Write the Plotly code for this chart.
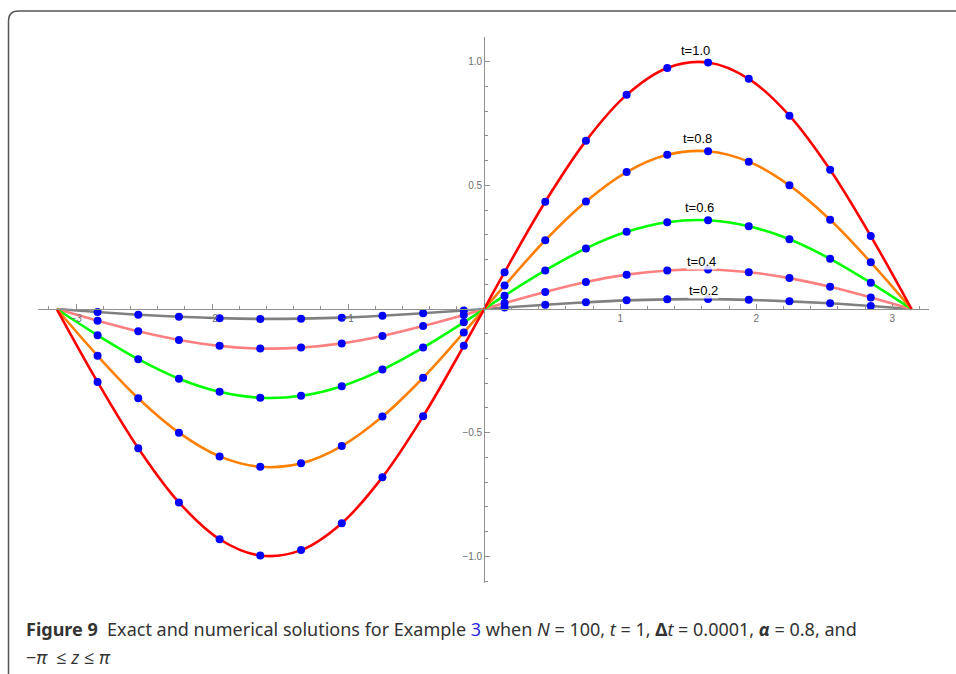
import plotly.graph_objects as go

# ---------------- data ----------------
z_curve = [-3.142, -2.842, -2.543, -2.244, -1.945, -1.646, -1.346, -1.047, -0.748, -0.449, -0.150, 0.0,
           0.150, 0.449, 0.748, 1.047, 1.346, 1.646, 1.945, 2.244, 2.543, 2.842, 3.142]

exact_t02 = [0, -0.012, -0.023, -0.031, -0.037, -0.040, -0.039, -0.035, -0.027, -0.017, -0.006, 0,
             0.006, 0.017, 0.027, 0.035, 0.039, 0.040, 0.037, 0.031, 0.023, 0.012, 0]
exact_t04 = [0, -0.047, -0.090, -0.125, -0.149, -0.160, -0.156, -0.139, -0.109, -0.069, -0.024, 0,
             0.024, 0.069, 0.109, 0.139, 0.156, 0.160, 0.149, 0.125, 0.090, 0.047, 0]
exact_t06 = [0, -0.106, -0.203, -0.282, -0.335, -0.359, -0.351, -0.312, -0.245, -0.156, -0.054, 0,
             0.054, 0.156, 0.245, 0.312, 0.351, 0.359, 0.335, 0.282, 0.203, 0.106, 0]
exact_t08 = [0, -0.189, -0.361, -0.500, -0.596, -0.638, -0.624, -0.554, -0.435, -0.278, -0.095, 0,
             0.095, 0.278, 0.435, 0.554, 0.624, 0.638, 0.596, 0.500, 0.361, 0.189, 0]
exact_t10 = [0, -0.295, -0.563, -0.782, -0.931, -0.997, -0.975, -0.866, -0.680, -0.434, -0.149, 0,
             0.149, 0.434, 0.680, 0.866, 0.975, 0.997, 0.931, 0.782, 0.563, 0.295, 0]

z_dots = [-2.842, -2.543, -2.244, -1.945, -1.646, -1.346, -1.047, -0.748, -0.449, -0.150,
          0.150, 0.449, 0.748, 1.047, 1.346, 1.646, 1.945, 2.244, 2.543, 2.842]
num_t02 = [-0.012, -0.023, -0.031, -0.037, -0.040, -0.039, -0.035, -0.027, -0.017, -0.006,
           0.006, 0.017, 0.027, 0.035, 0.039, 0.040, 0.037, 0.031, 0.023, 0.012]
num_t04 = [-0.047, -0.090, -0.125, -0.149, -0.160, -0.156, -0.139, -0.109, -0.069, -0.024,
           0.024, 0.069, 0.109, 0.139, 0.156, 0.160, 0.149, 0.125, 0.090, 0.047]
num_t06 = [-0.106, -0.203, -0.282, -0.335, -0.359, -0.351, -0.312, -0.245, -0.156, -0.054,
           0.054, 0.156, 0.245, 0.312, 0.351, 0.359, 0.335, 0.282, 0.203, 0.106]
num_t08 = [-0.189, -0.361, -0.500, -0.596, -0.638, -0.624, -0.554, -0.435, -0.278, -0.095,
           0.095, 0.278, 0.435, 0.554, 0.624, 0.638, 0.596, 0.500, 0.361, 0.189]
num_t10 = [-0.295, -0.563, -0.782, -0.931, -0.997, -0.975, -0.866, -0.680, -0.434, -0.149,
           0.149, 0.434, 0.680, 0.866, 0.975, 0.997, 0.931, 0.782, 0.563, 0.295]

series_names = ["t=0.2", "t=0.4", "t=0.6", "t=0.8", "t=1.0"]
series_colors = ["#808080", "#FF8080", "#00FF00", "#FF8000", "#FF0000"]
label_pos = [(1.61, 0.075), (1.60, 0.191), (1.58, 0.411), (1.566, 0.688), (1.55, 1.046)]

x_ticks = [-3, -2, -1, 1, 2, 3]
y_ticks = [-1.0, -0.5, 0.5, 1.0]
y_ticktext = ["\u22121.0", "\u22120.5", "0.5", "1.0"]
x_ticktext = ["\u22123", "\u22122", "\u22121", "1", "2", "3"]

# ---------------- figure ----------------
W, H = 956, 674
ML, MR, MT, MB = 38, 27, 37, 91
x_range = [-3.28, 3.27]
y_range = [-1.108, 1.10]

fig = go.Figure()
exacts = [exact_t02, exact_t04, exact_t06, exact_t08, exact_t10]
nums = [num_t02, num_t04, num_t06, num_t08, num_t10]

for ys, c, n in zip(exacts, series_colors, series_names):
    fig.add_trace(go.Scatter(x=z_curve, y=ys, mode="lines", name=n,
                             line=dict(color=c, width=2.6, shape="spline", smoothing=1.0),
                             hoverinfo="skip"))
for ys, n in zip(nums, series_names):
    fig.add_trace(go.Scatter(x=z_dots, y=ys, mode="markers", name=n + " numerical",
                             marker=dict(color="#0000FF", size=8, line=dict(width=0))))

for (lx, ly), n in zip(label_pos, series_names):
    fig.add_annotation(x=lx, y=ly, text=n, showarrow=False, xref="x", yref="y",
                       font=dict(family="Liberation Sans, Arial, sans-serif", size=13, color="black"),
                       bgcolor="rgba(255,255,255,0.85)", borderpad=0)

pw = W - ML - MR
ph = H - MT - MB
def px_x(p):
    return (p - ML) / pw
def px_y(p):
    return (H - MB - p) / ph

xpos = (0 - y_range[0]) / (y_range[1] - y_range[0])
ypos = (0 - x_range[0]) / (x_range[1] - x_range[0])

axis_font = dict(family="Liberation Sans, Arial, sans-serif", size=10, color="#6e6e6e")
fig.update_layout(
    width=W, height=H,
    margin=dict(l=ML, r=MR, t=MT, b=MB),
    paper_bgcolor="white", plot_bgcolor="white",
    showlegend=False,
    xaxis=dict(range=x_range, anchor="free", position=xpos, showgrid=False, zeroline=False,
               showline=True, linecolor="#909090", linewidth=1,
               tickmode="array", tickvals=x_ticks, ticktext=x_ticktext,
               ticks="inside", ticklen=5, tickwidth=1, tickcolor="#909090",
               tickfont=axis_font,
               minor=dict(tickmode="linear", tick0=0, dtick=0.2, ticks="inside", ticklen=3,
                          tickcolor="#909090", tickwidth=1, showgrid=False)),
    yaxis=dict(range=y_range, anchor="free", position=ypos, showgrid=False, zeroline=False,
               showline=True, linecolor="#909090", linewidth=1,
               tickmode="array", tickvals=y_ticks, ticktext=y_ticktext,
               ticks="inside", ticklen=5, tickwidth=1, tickcolor="#909090",
               tickfont=axis_font,
               minor=dict(tickmode="linear", tick0=0, dtick=0.1, ticks="inside", ticklen=3,
                          tickcolor="#909090", tickwidth=1, showgrid=False)),
)

# rounded frame (left + top edges visible)
x0 = px_x(8.5)
yt = px_y(11)
yb = px_y(690)
xr = px_x(970)
rx = 10 / pw
ry = 10 / ph
path = (f"M {x0},{yb} L {x0},{yt - ry} Q {x0},{yt} {x0 + rx},{yt} L {xr},{yt}")
fig.add_shape(type="path", path=path, xref="paper", yref="paper",
              line=dict(color="#555555", width=1.5))

cap_font = dict(family="Noto Sans, Open Sans, sans-serif", size=18, color="#333333")
line1 = ("<b>Figure 9</b>  Exact and numerical solutions for Example "
         "<span style='color:#2a2ae0'>3</span> when <i>N</i> = 100, <i>t</i> = 1, "
         "<b>\u0394</b><i>t</i> = 0.0001, <b><i>\u03b1</i></b> = 0.8, and")
line2 = "\u2212<i>\u03c0</i>  \u2264 <i>z</i> \u2264 <i>\u03c0</i>"
fig.add_annotation(x=px_x(24), y=px_y(629), xref="paper", yref="paper", text=line1,
                   showarrow=False, xanchor="left", yanchor="middle", font=cap_font)
fig.add_annotation(x=px_x(24), y=px_y(657), xref="paper", yref="paper", text=line2,
                   showarrow=False, xanchor="left", yanchor="middle", font=cap_font)

fig.write_html("out.html")
